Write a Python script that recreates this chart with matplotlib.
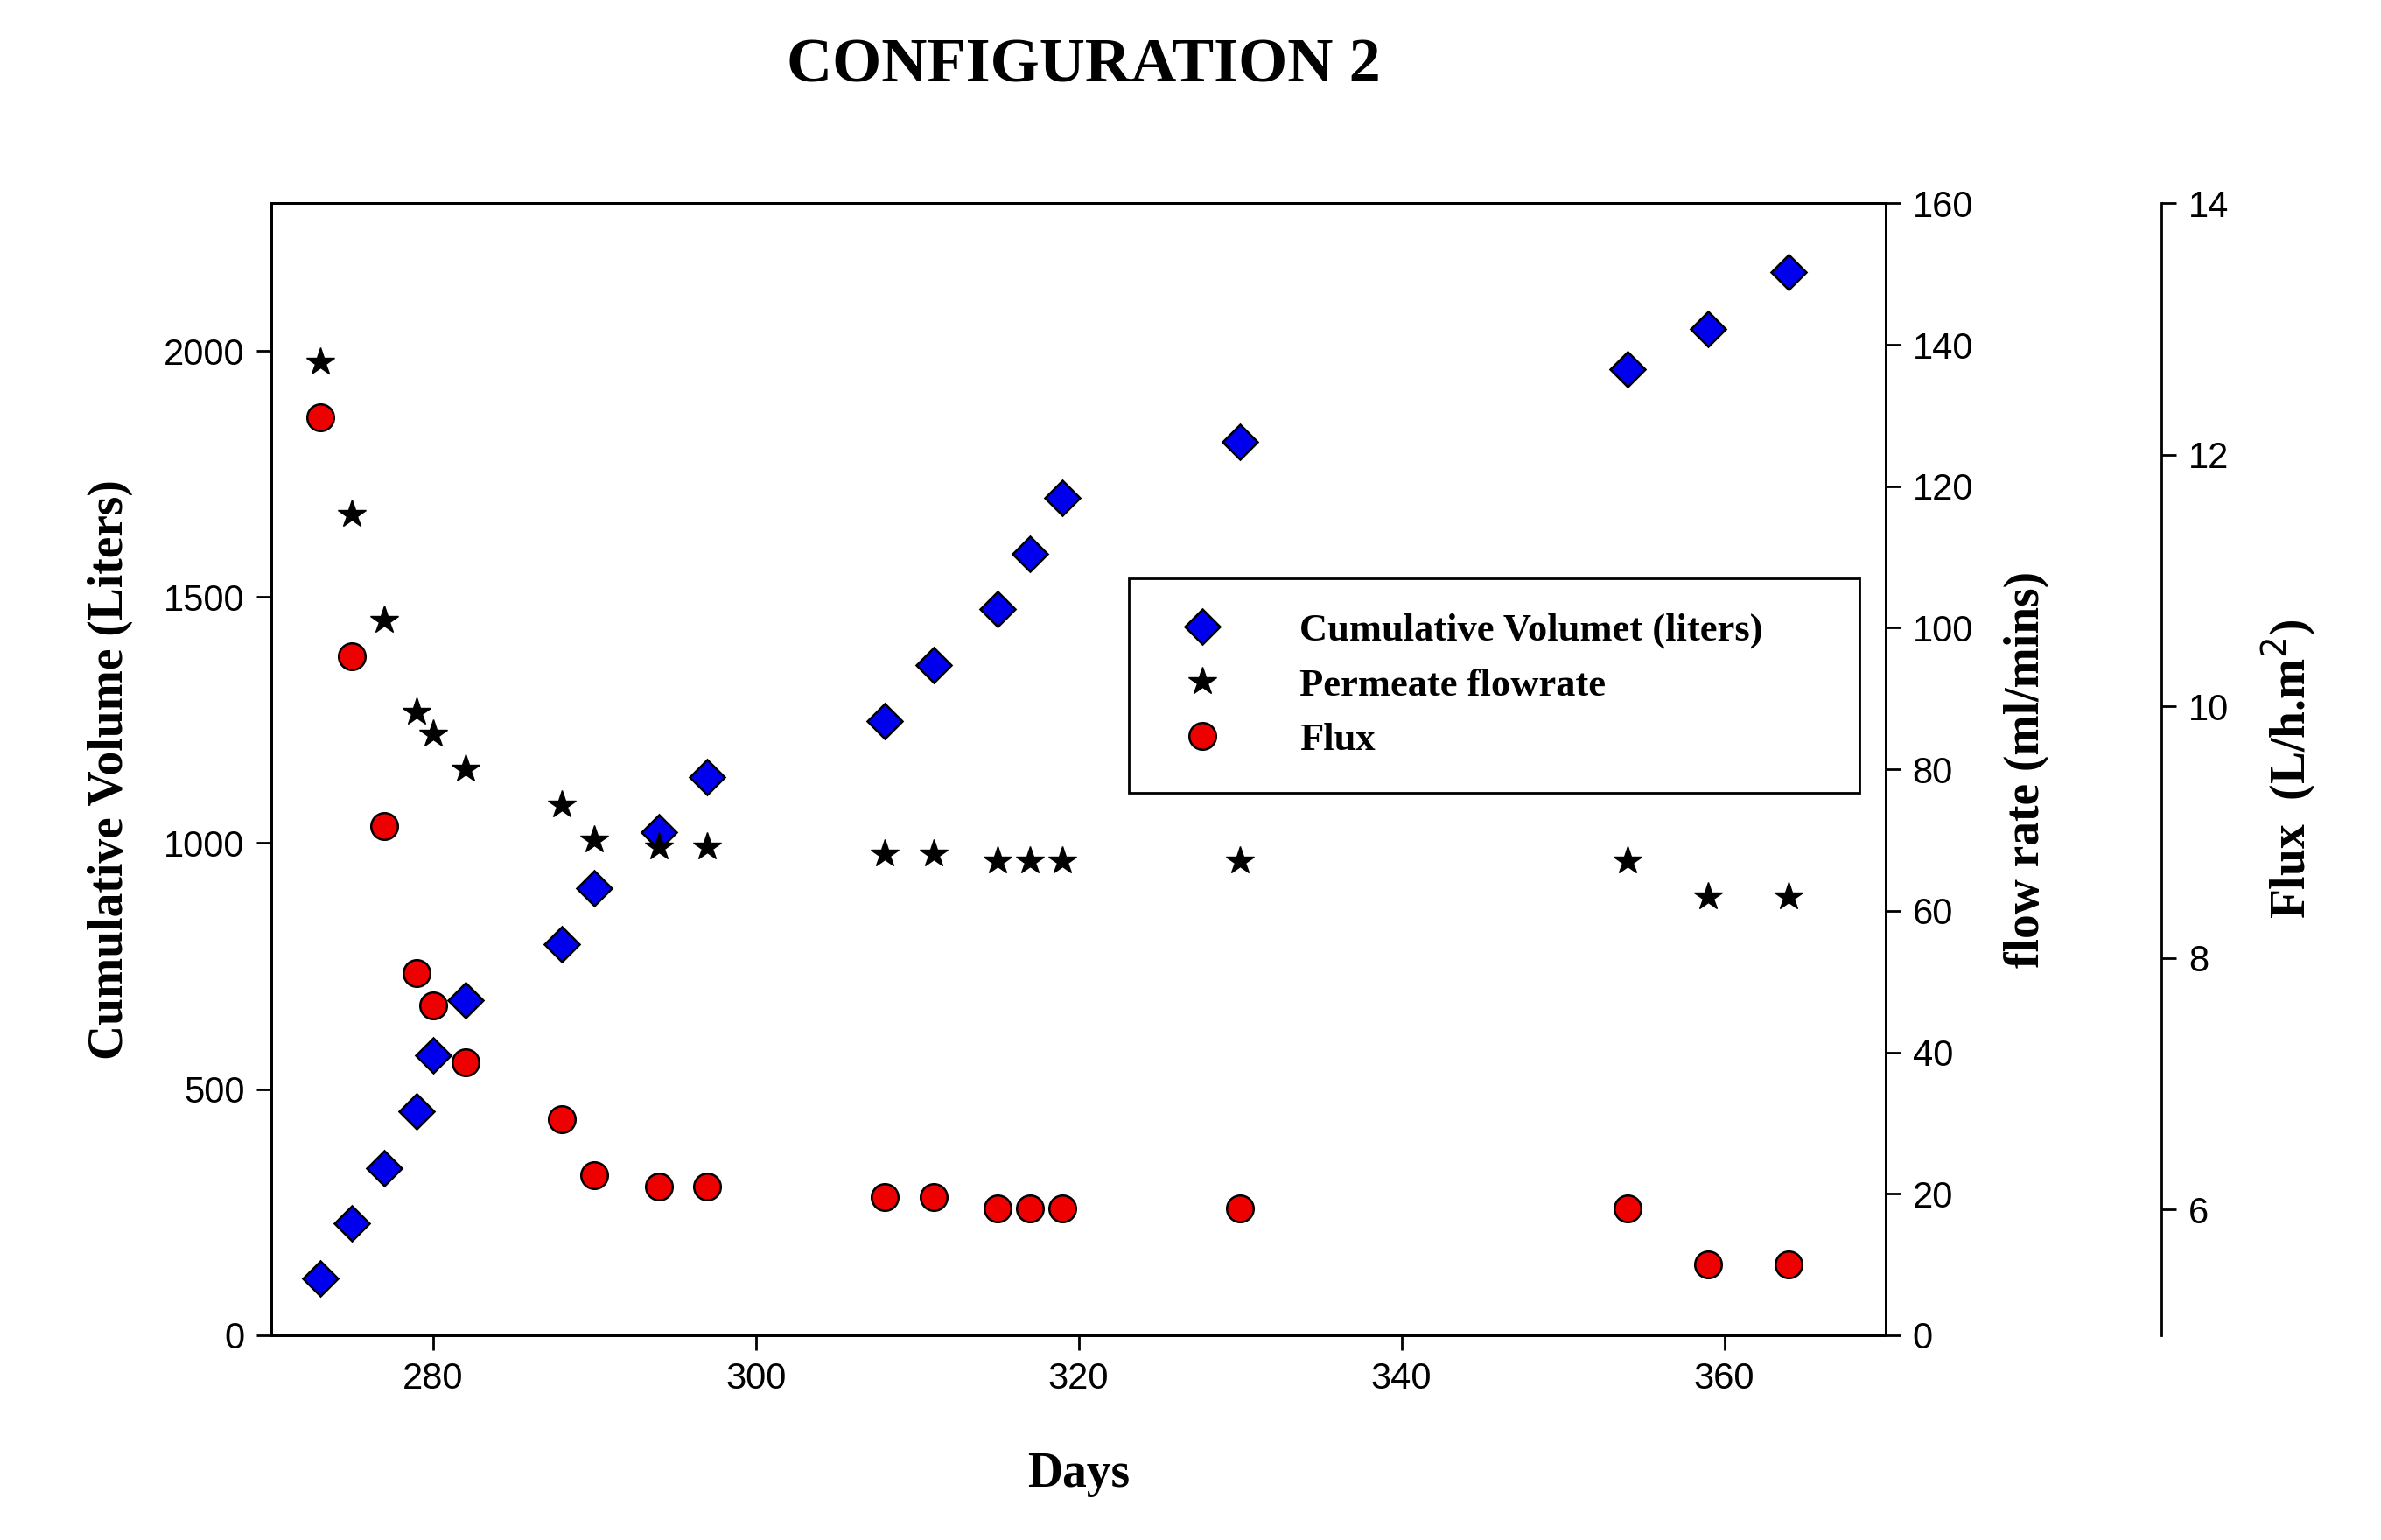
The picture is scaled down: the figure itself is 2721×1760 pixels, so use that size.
import matplotlib
matplotlib.use("Agg")
import matplotlib.pyplot as plt

# ── Data ──────────────────────────────────────────────────────────────
DAYS = [273, 275, 277, 279, 280, 282, 288, 290, 294, 297,
        308, 311, 315, 317, 319, 330, 354, 359, 364]
CUM_VOLUME = [115, 228, 340, 455, 568, 680, 795, 908, 1022, 1135,
              1248, 1362, 1475, 1588, 1702, 1815, 1962, 2045, 2160]
FLOWRATE = [137.5, 116, 101, 88, 85, 80, 75, 70, 69, 69,
            68, 68, 67, 67, 67, 67, 67, 62, 62]
FLUX = [12.3, 10.4, 9.05, 7.88, 7.62, 7.17, 6.72, 6.27, 6.18, 6.18,
        6.10, 6.10, 6.01, 6.01, 6.01, 6.01, 6.01, 5.56, 5.56]

SERIF = "Liberation Serif"
SANS = "Liberation Sans"
TICK_FS = 30
LABEL_FS = 40

fig = plt.figure(figsize=(27.21, 17.6), dpi=100)
ax = fig.add_axes([0.114, 0.133, 0.678, 0.735])
ax2 = ax.twinx()
ax3 = ax.twinx()

h1, = ax.plot(DAYS, CUM_VOLUME, "D", color="#0000ee", mec="black", mew=1.8,
              ms=20, label="Cumulative Volumet (liters)", zorder=3)
h2, = ax2.plot(DAYS, FLOWRATE, "*", color="black", ms=24,
               label="Permeate flowrate", zorder=3)
h3, = ax3.plot(DAYS, FLUX, "o", color="#ee0000", mec="black", mew=1.8,
               ms=22, label="Flux", zorder=3)

ax.set_xlim(270, 370)
ax.set_ylim(0, 2300)
ax.set_xticks([280, 300, 320, 340, 360])
ax.set_yticks([0, 500, 1000, 1500, 2000])
ax2.set_ylim(0, 160)
ax2.set_yticks(range(0, 161, 20))
ax3.set_ylim(5, 14)
ax3.set_yticks([6, 8, 10, 12, 14])

ax3.spines["right"].set_position(("axes", 1.171))
for s in ("top", "bottom", "left"):
    ax3.spines[s].set_visible(False)

for a in (ax, ax2, ax3):
    a.tick_params(labelsize=TICK_FS, width=2, length=12, direction="out", pad=10)
    for lab in a.get_xticklabels() + a.get_yticklabels():
        lab.set_fontfamily(SANS)
    for s in a.spines.values():
        s.set_linewidth(2)

ax.set_xlabel("Days", fontsize=LABEL_FS, fontfamily=SERIF, fontweight="bold", labelpad=45)
ax.set_ylabel("Cumulative Volume (Liters)", fontsize=LABEL_FS, fontfamily=SERIF,
              fontweight="bold", labelpad=25)
ax2.set_ylabel("flow rate (ml/mins)", fontsize=LABEL_FS, fontfamily=SERIF,
               fontweight="bold", labelpad=25)
ax3.set_ylabel(r"Flux  (L/h.m$^2$)", fontsize=LABEL_FS, fontfamily=SERIF,
               fontweight="bold", labelpad=25)

fig.suptitle("CONFIGURATION 2", x=0.455, y=0.975, fontsize=52,
             fontfamily=SERIF, fontweight="bold")

leg = ax.legend(handles=[h1, h2, h3], loc="upper left",
                bbox_to_anchor=(0.519, 0.457, 0.477, 0.229), mode="expand",
                prop={"family": SERIF, "weight": "bold", "size": 32},
                fancybox=False, edgecolor="black", framealpha=1,
                borderpad=0.9, labelspacing=0.5, handletextpad=1.5)
leg.get_frame().set_linewidth(2)
leg.set_zorder(10)

fig.savefig("out.png", dpi=100)
